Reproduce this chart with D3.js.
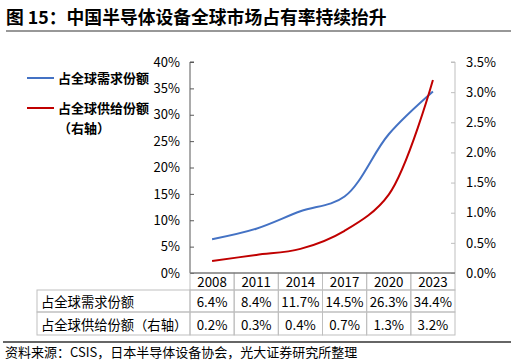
<!DOCTYPE html>
<html>
<head>
<meta charset="utf-8">
<script src="https://cdn.jsdelivr.net/npm/d3@7"></script>
<style>
  body { margin: 0; background: #fff; }
  svg text { font-family: "Noto Sans CJK SC", "Noto Sans", sans-serif; fill: #000; }
</style>
</head>
<body>
<div id="graph-container"></div>
<script>
// data
var years = ['2008', '2011', '2014', '2017', '2020', '2023'];
var demand_share = [6.4, 8.4, 11.7, 14.5, 26.3, 34.4];   // left axis, %
var supply_share = [0.2, 0.3, 0.4, 0.7, 1.3, 3.2];       // right axis, %
var left_ticks = [0, 5, 10, 15, 20, 25, 30, 35, 40];
var right_ticks = [0, 0.5, 1, 1.5, 2, 2.5, 3, 3.5];
var series_names = ['占全球需求份额', '占全球供给份额（右轴）'];

var title_text = '图 15：中国半导体设备全球市场占有率持续抬升';
var source_text = '资料来源：CSIS，日本半导体设备协会，光大证券研究所整理';

var w = 516, h = 363;
var plot = {left: 190, right: 455, top: 62, bottom: 273};
var table_left = 37;
var row_edges = [290, 312, 335];   // table row borders below the year header

var blue = '#4472c4';
var red = '#c00000';

var svg = d3.select('#graph-container').append('svg')
    .attr('width', w).attr('height', h);

// title + rules
svg.append('text').attr('x', 6).attr('y', 24)
   .style('font-size', '17.8px').style('font-weight', 'bold')
   .text(title_text);
svg.append('line').attr('x1', 6).attr('x2', 511).attr('y1', 31).attr('y2', 31)
   .style('stroke', '#333').style('stroke-width', 1.2);
svg.append('line').attr('x1', 3).attr('x2', 511).attr('y1', 342).attr('y2', 342)
   .style('stroke', '#333').style('stroke-width', 1.5);
svg.append('text').attr('x', 5).attr('y', 357)
   .style('font-size', '13px').text(source_text);

// scales
var x = d3.scaleBand().domain(years).range([plot.left, plot.right]);
var y_left = d3.scaleLinear().domain([0, 40]).range([plot.bottom, plot.top]);
var y_right = d3.scaleLinear().domain([0, 3.5]).range([plot.bottom, plot.top]);
var cx = (d) => x(d) + x.bandwidth() / 2;

// axes
var left_axis = d3.axisRight(y_left).tickValues(left_ticks).tickSize(4)
    .tickFormat(d => d + '%');
var gl = svg.append('g').attr('transform', `translate(${plot.left},0)`).call(left_axis);
gl.select('.domain').attr('d', `M4,${plot.top}H0V${plot.bottom}`).style('stroke', '#595959');
gl.selectAll('.tick line').style('stroke', '#595959');
gl.selectAll('.tick text').attr('x', -10).style('text-anchor', 'end')
  .style('font-size', '13px').style('fill', '#000');

var right_axis = d3.axisLeft(y_right).tickValues(right_ticks).tickSize(4)
    .tickFormat(d => d.toFixed(1) + '%');
var gr = svg.append('g').attr('transform', `translate(${plot.right},0)`).call(right_axis);
gr.select('.domain').attr('d', `M-4,${plot.top}H0V${plot.bottom}`).style('stroke', '#bfbfbf');
gr.selectAll('.tick line').style('stroke', '#bfbfbf');
gr.selectAll('.tick text').attr('x', 11).style('text-anchor', 'start')
  .style('font-size', '13px').style('fill', '#000');

// lines
var line_left = d3.line().x((d, i) => cx(years[i])).y(d => y_left(d)).curve(d3.curveCatmullRom.alpha(0.5));
var line_right = d3.line().x((d, i) => cx(years[i])).y(d => y_right(d)).curve(d3.curveCatmullRom.alpha(0.5));

svg.append('path').datum(demand_share).attr('d', line_left)
   .style('fill', 'none').style('stroke', blue).style('stroke-width', 2);
svg.append('path').datum(supply_share).attr('d', line_right)
   .style('fill', 'none').style('stroke', red).style('stroke-width', 2);

// legend
var legend = svg.append('g');
legend.append('line').attr('x1', 27).attr('x2', 54).attr('y1', 78).attr('y2', 78)
      .style('stroke', blue).style('stroke-width', 2);
legend.append('text').attr('x', 58).attr('y', 83).style('font-size', '13px').style('font-weight', 'bold')
      .text(series_names[0]);
legend.append('line').attr('x1', 27).attr('x2', 54).attr('y1', 108).attr('y2', 108)
      .style('stroke', red).style('stroke-width', 2);
legend.append('text').attr('x', 58).attr('y', 113).style('font-size', '13px').style('font-weight', 'bold')
      .text('占全球供给份额');
legend.append('text').attr('x', 58).attr('y', 133).style('font-size', '13px').style('font-weight', 'bold')
      .text('（右轴）');

// data table
var table = svg.append('g');
var grid = '#bfbfbf';

// header cells
years.forEach(function(yr) {
    table.append('rect').attr('x', x(yr)).attr('y', plot.bottom).attr('width', x.bandwidth()).attr('height', row_edges[0] - plot.bottom)
         .style('fill', 'none').style('stroke', grid);
    table.append('text').attr('x', cx(yr)).attr('y', plot.bottom + 14).style('text-anchor', 'middle')
         .style('font-size', '13.3px').text(yr);
});

var rows = [demand_share, supply_share];
[[row_edges[0], row_edges[1]], [row_edges[1], row_edges[2]]].forEach(function(r, k) {
    var base = r[0] + (k == 0 ? 17 : 18);
    table.append('rect').attr('x', table_left).attr('y', r[0]).attr('width', plot.left - table_left).attr('height', r[1] - r[0])
         .style('fill', 'none').style('stroke', grid);
    table.append('text').attr('x', table_left + 4).attr('y', base).style('font-size', '13.3px')
         .text(series_names[k]);
    rows[k].forEach(function(v, i) {
        table.append('rect').attr('x', x(years[i])).attr('y', r[0]).attr('width', x.bandwidth()).attr('height', r[1] - r[0])
             .style('fill', 'none').style('stroke', grid);
        table.append('text').attr('x', cx(years[i])).attr('y', base).style('text-anchor', 'middle')
             .style('font-size', '13.3px').text(v.toFixed(1) + '%');
    });
});

// x axis line on top of the header row
svg.append('line').attr('x1', plot.left).attr('x2', plot.right).attr('y1', plot.bottom).attr('y2', plot.bottom)
   .style('stroke', '#595959');
</script>
</body>
</html>
